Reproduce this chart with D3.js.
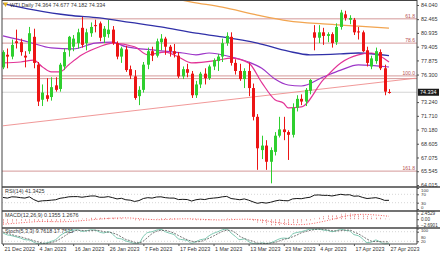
<!DOCTYPE html>
<html><head><meta charset="utf-8">
<script src="https://cdn.jsdelivr.net/npm/d3@7"></script>
<style>html,body{margin:0;padding:0;background:#fff;overflow:hidden}svg{display:block;font-family:"Liberation Sans",Arial,sans-serif}</style>
</head><body><svg id="c" width="440" height="254"></svg>
<script>
// ---------- data ----------
const dates = ["2022-12-21","2022-12-22","2022-12-23","2022-12-27","2022-12-28","2022-12-29","2022-12-30",
"2023-01-03","2023-01-04","2023-01-05","2023-01-06","2023-01-09","2023-01-10","2023-01-11","2023-01-12","2023-01-13",
"2023-01-16","2023-01-17","2023-01-18","2023-01-19","2023-01-20","2023-01-23","2023-01-24","2023-01-25","2023-01-26","2023-01-27",
"2023-01-30","2023-01-31","2023-02-01","2023-02-02","2023-02-03","2023-02-06","2023-02-07","2023-02-08","2023-02-09","2023-02-10",
"2023-02-13","2023-02-14","2023-02-15","2023-02-16","2023-02-17","2023-02-20","2023-02-21","2023-02-22","2023-02-23","2023-02-24",
"2023-02-27","2023-02-28","2023-03-01","2023-03-02","2023-03-03","2023-03-06","2023-03-07","2023-03-08","2023-03-09","2023-03-10",
"2023-03-13","2023-03-14","2023-03-15","2023-03-16","2023-03-17","2023-03-20","2023-03-21","2023-03-22","2023-03-23","2023-03-24",
"2023-03-27","2023-03-28","2023-03-29","2023-03-30","2023-03-31","2023-04-03","2023-04-04","2023-04-05","2023-04-06","2023-04-10",
"2023-04-11","2023-04-12","2023-04-13","2023-04-14","2023-04-17","2023-04-18","2023-04-19","2023-04-20","2023-04-21","2023-04-24",
"2023-04-25","2023-04-26","2023-04-27"];
const open  = [77.1,78.5,78.3,80.0,79.9,78.4,78.9,80.5,77.4,73.5,74.0,73.8,75.1,74.7,77.2,79.0,79.4,79.8,81.5,79.8,80.9,81.8,82.0,80.5,80.8,81.3,79.8,78.3,79.1,76.9,76.1,73.9,74.6,77.4,78.9,78.4,79.9,80.3,79.4,78.9,78.4,76.1,76.9,76.4,74.0,75.2,76.4,75.9,77.2,77.8,78.3,79.8,80.5,77.6,76.7,75.8,76.7,74.8,71.6,67.9,68.4,66.6,67.7,69.5,70.2,69.9,69.6,72.6,73.6,73.3,74.5,81.0,80.4,81.0,80.6,80.8,79.9,81.6,83.0,82.4,82.4,81.1,81.0,79.0,77.2,77.8,78.8,77.0,74.364];
const high  = [79.0,79.2,80.2,81.3,80.3,78.9,81.6,81.4,77.7,75.2,75.9,76.0,76.0,77.6,79.2,80.6,80.7,81.4,82.7,81.4,82.1,82.4,82.2,81.7,82.4,81.7,80.0,79.4,79.5,77.3,76.8,75.0,77.7,79.3,79.4,80.3,80.8,80.5,79.6,79.7,78.8,77.2,77.5,76.7,75.6,76.6,77.0,77.4,78.1,78.6,80.3,81.0,81.0,78.0,77.5,77.0,77.6,75.3,71.9,69.5,69.0,68.2,69.9,71.6,71.6,70.1,73.1,74.0,74.1,74.8,75.8,81.8,81.8,81.5,81.0,81.0,82.0,83.5,83.4,82.9,82.6,81.6,81.2,79.4,78.4,79.3,79.1,77.4,74.677];
const low   = [76.9,77.0,78.0,79.2,78.4,77.1,78.6,77.0,72.8,72.8,73.3,73.4,74.4,74.4,76.8,78.3,78.9,79.2,79.3,79.0,80.5,81.0,80.0,79.8,80.4,79.6,78.0,77.6,76.6,75.8,73.5,72.9,74.3,76.9,77.8,78.2,79.0,78.5,78.3,78.2,75.9,75.8,76.0,73.7,73.7,74.8,75.2,75.7,76.8,76.7,77.7,79.5,77.3,76.3,75.6,74.8,73.9,71.2,65.7,66.9,65.7,64.2,67.3,69.3,69.0,66.8,69.3,72.2,72.9,72.8,74.1,79.0,79.8,79.6,79.9,79.3,79.6,81.3,82.3,81.9,80.7,80.2,78.8,77.2,76.9,77.5,76.8,74.0,74.182];
const close = [78.8,78.3,79.6,79.8,78.8,78.2,80.9,77.6,73.3,74.3,73.6,74.9,74.6,77.4,78.8,80.5,80.3,81.0,79.6,81.0,81.6,81.7,80.4,81.4,81.3,79.8,78.3,79.2,76.8,76.2,73.7,74.6,77.4,78.9,78.4,80.0,80.3,79.4,78.9,78.6,76.1,76.9,76.5,74.0,75.2,76.4,75.9,77.2,77.9,78.3,79.8,80.6,77.6,76.7,75.8,76.7,74.8,71.6,68.1,68.4,66.6,67.9,69.5,70.2,69.9,69.6,72.6,73.6,73.3,74.6,75.7,80.4,81.0,80.6,80.8,79.8,81.6,83.2,82.6,82.6,81.0,81.0,78.9,77.6,78.1,78.9,77.0,74.4,74.334];

// moving averages (bar index -> price)
const ma100Idx = [0,7,15,22,29,36,44,50,58,65,70,77,81,88];
const ma100Val = [84.2,83.5,82.9,82.6,82.1,81.6,80.9,80.5,79.8,78.9,78.5,78.6,78.7,78.4];
const ma200Idx = [34,43,50,58,65,73,81,88];
const ma200Val = [85.3,84.37,83.8,82.92,82.28,81.93,81.69,81.46];
const maPurpleIdx = [0,6,11,16,21,25,28,35,41,44,47,52,56,59,62,65,68,73,77,81,88];
const maPurpleVal = [80.6,79.9,79.26,79.15,79.8,79.9,79.4,79.0,78.7,78.5,78.7,78.26,77.7,77.0,75.8,75.14,75.03,76.03,76.8,77.37,77.14];
const maPinkIdx = [0,4,7,9,11,13,15,18,22,25,30,33,37,40,43,49,52,56,59,62,64,65,68,73,77,81,84,88];
const maPinkVal = [77.6,77.7,77.9,77.14,76.6,76.6,77.4,78.5,79.4,79.8,79.4,78.5,78.8,78.26,77.6,77.9,78.14,77.6,75.4,73.5,73.1,72.6,72.7,75.7,77.6,78.5,78.7,77.7];

// fibonacci / horizontal levels
const fibLevels = [82.5, 79.8, 76.15, 75.85, 65.56];
const fibLabels = ["61.8","78.6","100.0","","161.8"];
const trendStart = [0, 70.6];   // [bar index, price]
const trendEnd   = [94.1, 75.9];

const priceTicks = [84.040,82.465,80.935,79.405,77.875,76.300,73.240,71.710,70.180,68.605,67.075,65.545,64.015];
const lastPrice = 74.334;

const rsi = [55,52,58,57,54,52,58,45,36,39,40,42,44,51,54,58,59,59,56,59,62,62,56,56,59,54,48,51,44,42,36,40,50,54,52,57,58,54,52,52,45,46,45,38,44,47,45,50,52,54,58,60,50,47,44,48,42,34,27,31,28,32,38,42,40,39,48,50,49,53,56,66,67,65,65,62,66,70,67,68,61,62,55,50,52,54,49,41,41.34];
const rsiTicks = [100,70,30,0];

const macdMain = [-1.9,-1.7,-1.4,-1.1,-0.95,-0.85,-0.6,-0.7,-1.05,-1.2,-1.3,-1.25,-1.15,-0.9,-0.6,-0.3,-0.05,0.15,0.25,0.4,0.6,0.75,0.75,0.7,0.75,0.7,0.5,0.42,0.15,-0.1,-0.45,-0.6,-0.45,-0.2,-0.05,0.2,0.4,0.45,0.45,0.4,0.2,0.05,-0.05,-0.35,-0.45,-0.45,-0.5,-0.4,-0.25,-0.1,0.1,0.35,0.3,0.15,-0.05,-0.1,-0.3,-0.75,-1.45,-1.85,-2.3,-2.6,-2.69,-2.55,-2.5,-2.45,-2.05,-1.65,-1.35,-0.95,-0.5,0.3,0.95,1.35,1.65,1.75,1.95,2.3,2.45,2.45,2.3,2.15,1.85,1.45,1.15,1.0,0.7,0.25,0.1355];
const macdSignal = [-2.1,-2.0,-1.85,-1.7,-1.55,-1.4,-1.25,-1.1,-1.0,-0.98,-0.98,-1.0,-1.05,-1.07,-1.05,-1.0,-0.9,-0.75,-0.6,-0.45,-0.3,-0.1,0.05,0.2,0.35,0.45,0.52,0.58,0.58,0.52,0.4,0.25,0.1,-0.03,-0.13,-0.18,-0.18,-0.13,-0.05,0.05,0.13,0.17,0.18,0.15,0.08,0.0,-0.1,-0.2,-0.28,-0.32,-0.3,-0.25,-0.17,-0.1,-0.03,0.02,0.02,-0.07,-0.25,-0.45,-0.7,-1.0,-1.3,-1.6,-1.85,-2.1,-2.3,-2.35,-2.3,-2.2,-2.0,-1.7,-1.35,-0.95,-0.55,-0.1,0.35,0.85,1.3,1.65,1.9,2.05,2.1,2.05,1.95,1.8,1.65,1.45,1.2676];
const macdTicks = [2.4529,0,-2.6901];

const stochK = [72,60,55,48,40,30,28,15,5,6,10,20,30,55,72,85,90,92,82,85,92,90,78,72,80,65,40,35,22,15,6,10,50,75,80,90,94,80,70,62,35,30,25,8,18,30,35,55,70,80,92,96,72,50,30,35,18,6,4,10,6,10,22,35,40,38,65,75,80,88,96,95,96,90,88,80,86,96,88,85,62,55,35,12,15,28,15,4,9.7618];
const stochD = [78,70,62,54,48,40,33,24,16,9,7,12,20,35,52,70,82,89,88,86,86,89,87,80,77,72,62,47,32,24,14,10,22,45,68,82,88,88,81,71,56,42,30,21,17,19,28,40,53,68,81,89,87,73,51,38,28,20,9,7,7,9,13,22,32,38,48,59,73,81,88,93,96,94,91,86,85,87,90,90,78,67,51,34,21,18,19,16,17.7535];
const stochTicks = [100,80,20];

const dateTickIdx = [0,8,16,24,32,40,48,56,64,72,80,88];
const monthNames = ["Jan","Feb","Mar","Apr","May","Jun","Jul","Aug","Sep","Oct","Nov","Dec"];

// ---------- drawing ----------
const svg = d3.select("#c");
const FS = 5.4, TXT = "#333";
const L = 2, R = 417;
const x = d3.scaleLinear().domain([0, 88]).range([3, 389]);
const y = d3.scaleLinear().domain([64.015, 84.040]).range([185, 5]);
const yR = d3.scaleLinear().domain([0, 100]).range([209, 188]);
const yM = d3.scaleLinear().domain([-2.6901, 2.4529]).range([225.5, 213.5]);
const yS = d3.scaleLinear().domain([0, 100]).range([244.5, 228.5]);

svg.append("defs").append("clipPath").attr("id","mainclip")
  .append("rect").attr("x",L).attr("y",0).attr("width",R-L).attr("height",187);

const main = svg.append("g").attr("clip-path","url(#mainclip)");

// current price line
main.append("line").attr("x1",L).attr("x2",R).attr("y1",y(lastPrice)).attr("y2",y(lastPrice))
  .attr("stroke","#c8c8c8").attr("stroke-width",0.8);

// fib lines
fibLevels.forEach((v,k)=>{
  main.append("line").attr("x1",L).attr("x2",R).attr("y1",y(v)).attr("y2",y(v))
    .attr("stroke","#cf8c8c").attr("stroke-width",0.9);
  if (fibLabels[k]) main.append("text").attr("x",R-2).attr("y",y(v)-1).attr("text-anchor","end")
    .attr("font-size",5).attr("fill","#b65252").text(fibLabels[k]);
});

// trend line
main.append("line").attr("x1",x(trendStart[0])).attr("y1",y(trendStart[1]))
  .attr("x2",x(trendEnd[0])).attr("y2",y(trendEnd[1]))
  .attr("stroke","#ee8c8c").attr("stroke-width",0.9);

// moving averages
function maLine(idx, val, color, w){
  const pts = idx.map((d,k)=>[x(d), y(val[k])]);
  main.append("path").attr("d", d3.line().curve(d3.curveMonotoneX)(pts))
    .attr("fill","none").attr("stroke",color).attr("stroke-width",w);
}
maLine(ma200Idx, ma200Val, "#f2a550", 1.3);
maLine(ma100Idx, ma100Val, "#3030a8", 1.3);
maLine(maPurpleIdx, maPurpleVal, "#9c35c8", 1.2);
maLine(maPinkIdx, maPinkVal, "#e23396", 1.2);

// candles
const bw = 3;
const cg = main.append("g");
d3.range(close.length).forEach(i=>{
  const up = close[i] >= open[i];
  const col = up ? "#2fcf2f" : "#ec1515";
  const cx = Math.round(x(i)) + 0.5;
  cg.append("line").attr("x1",cx).attr("x2",cx).attr("y1",y(high[i])).attr("y2",y(low[i]))
    .attr("stroke",col).attr("stroke-width",1);
  const top = y(Math.max(open[i],close[i])), bot = y(Math.min(open[i],close[i]));
  cg.append("rect").attr("x",cx-bw/2).attr("y",top).attr("width",bw).attr("height",Math.max(1,bot-top))
    .attr("fill",col);
});

// title
svg.append("path").attr("d","M3,2.5 L8,2.5 L5.5,7 Z").attr("fill","#e0b020");
svg.append("text").attr("x",10).attr("y",7).attr("font-size",FS).attr("fill",TXT)
  .text("WTI,Daily  74.364 74.677 74.182 74.334");

// right price axis
const ax = svg.append("g").attr("transform",`translate(${R},0)`)
  .call(d3.axisRight(y).tickValues(priceTicks).tickSize(2).tickPadding(2).tickFormat(d3.format(".3f")));
ax.select(".domain").remove();
ax.selectAll("text").attr("font-size",FS).attr("fill",TXT).attr("font-family","Liberation Sans, Arial");
ax.selectAll("line").attr("stroke","#555");

// last price box
svg.append("rect").attr("x",R+1).attr("y",y(lastPrice)-3.5).attr("width",21).attr("height",7).attr("fill","#1a1a1a");
svg.append("text").attr("x",R+3).attr("y",y(lastPrice)+2).attr("font-size",FS).attr("fill","#fff").text(lastPrice.toFixed(3));

// ---- RSI ----
svg.append("text").attr("x",5).attr("y",193).attr("font-size",FS).attr("fill",TXT).text("RSI(14) 41.3425");
[70,30].forEach(v=>svg.append("line").attr("x1",L).attr("x2",R).attr("y1",yR(v)).attr("y2",yR(v))
  .attr("stroke","#bbb").attr("stroke-width",0.6).attr("stroke-dasharray","1,2"));
svg.append("path").attr("d", d3.line().x((d,i)=>x(i)).y(d=>yR(d))(rsi))
  .attr("fill","none").attr("stroke","#151515").attr("stroke-width",1);
const axR = svg.append("g").attr("transform",`translate(${R},0)`)
  .call(d3.axisRight(yR).tickValues(rsiTicks).tickSize(2).tickPadding(2));
axR.select(".domain").remove();
axR.selectAll("text").attr("font-size",4.4).attr("fill",TXT)
  .attr("dy",d=>d===100?"0.85em":d===0?"-0.1em":"0.32em");
axR.selectAll("line").attr("stroke","#555");

// ---- MACD ----
svg.append("text").attr("x",5).attr("y",216.5).attr("font-size",FS).attr("fill",TXT).text("MACD(12,26,9) 0.1355 1.2676");
const mg = svg.append("g");
macdMain.forEach((v,i)=>{
  mg.append("line").attr("x1",Math.round(x(i))+0.5).attr("x2",Math.round(x(i))+0.5)
    .attr("y1",yM(0)).attr("y2",yM(v)).attr("stroke","#e27a7a").attr("stroke-width",0.8)
    .attr("stroke-dasharray","1.5,0.8");
});
svg.append("path").attr("d", d3.line().x((d,i)=>x(i)).y(d=>yM(d))(macdSignal))
  .attr("fill","none").attr("stroke","#ee3030").attr("stroke-width",0.8).attr("stroke-dasharray","1,1.6");
const axM = svg.append("g").attr("transform",`translate(${R},0)`)
  .call(d3.axisRight(yM).tickValues(macdTicks).tickSize(2).tickPadding(2)
    .tickFormat(d=>d===0?"0.00":d3.format(".4f")(d)));
axM.select(".domain").remove();
axM.selectAll("text").attr("font-size",4.6).attr("fill",TXT);
axM.selectAll("line").attr("stroke","#555");

// ---- Stochastic ----
svg.append("text").attr("x",5).attr("y",233).attr("font-size",FS).attr("fill",TXT).text("Stoch(5,3,3) 9.7618 17.7535");
[80,20].forEach(v=>svg.append("line").attr("x1",L).attr("x2",R).attr("y1",yS(v)).attr("y2",yS(v))
  .attr("stroke","#bbb").attr("stroke-width",0.6).attr("stroke-dasharray","1,2"));
svg.append("path").attr("d", d3.line().curve(d3.curveMonotoneX).x((d,i)=>x(i)).y(d=>yS(d))(stochK))
  .attr("fill","none").attr("stroke","#6fc2a8").attr("stroke-width",0.9);
svg.append("path").attr("d", d3.line().curve(d3.curveMonotoneX).x((d,i)=>x(i)).y(d=>yS(d))(stochD))
  .attr("fill","none").attr("stroke","#555").attr("stroke-width",0.8).attr("stroke-dasharray","2,1.2");
const axS = svg.append("g").attr("transform",`translate(${R},0)`)
  .call(d3.axisRight(yS).tickValues(stochTicks).tickSize(2).tickPadding(2));
axS.select(".domain").remove();
axS.selectAll("text").attr("font-size",4.2).attr("fill",TXT)
  .attr("dy",d=>d===100?"0.75em":d===80?"1.55em":"0.32em");
axS.selectAll("line").attr("stroke","#555");

// ---- frames / separators ----
const fr = svg.append("g").attr("stroke","#444").attr("fill","none");
fr.append("line").attr("x1",L).attr("x2",L).attr("y1",0).attr("y2",244).attr("stroke-width",1);
fr.append("line").attr("x1",R).attr("x2",R).attr("y1",0).attr("y2",244).attr("stroke-width",1);
fr.append("line").attr("x1",L).attr("x2",R).attr("y1",0.5).attr("y2",0.5).attr("stroke-width",1);
[187,211,228].forEach(v=>fr.append("line").attr("x1",L).attr("x2",440).attr("y1",v).attr("y2",v).attr("stroke-width",1.4));
fr.append("line").attr("x1",L).attr("x2",R).attr("y1",244).attr("y2",244).attr("stroke-width",1);

// ---- date axis ----
const axD = svg.append("g").attr("transform","translate(0,244)")
  .call(d3.axisBottom(x).tickValues(dateTickIdx).tickSize(2).tickPadding(1.5)
    .tickFormat(i=>{const p=dates[i].split("-"); return (+p[2])+" "+monthNames[+p[1]-1]+" "+p[0];}));
axD.select(".domain").remove();
axD.selectAll("text").attr("font-size",FS).attr("fill",TXT).attr("text-anchor","start").attr("dx","1");
axD.selectAll("line").attr("stroke","#555");
</script>
</body></html>
